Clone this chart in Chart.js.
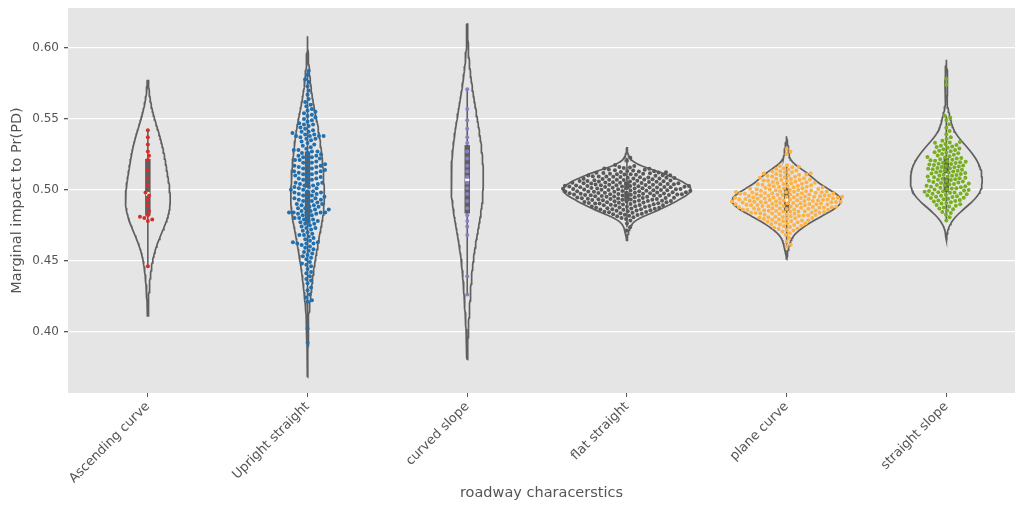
<!DOCTYPE html>
<html>
<head>
<meta charset="utf-8">
<script src="https://cdn.jsdelivr.net/npm/chart.js@4.4.1/dist/chart.umd.min.js"></script>
<style>
  html, body { margin: 0; padding: 0; background: #ffffff; }
  #wrap { width: 1019px; height: 509px; }
</style>
</head>
<body>
<div id="wrap"><canvas id="chart" width="1019" height="509"></canvas></div>
<script>
// Road-type categories along the x axis
const categories = ['Ascending curve', 'Upright straight', 'curved slope', 'flat straight', 'plane curve', 'straight slope'];

// Marginal impact to Pr(PD), one observation per value
const ascendingCurve = [0.446, 0.478, 0.479, 0.480, 0.481, 0.482, 0.485, 0.489, 0.493, 0.496, 0.498, 0.503, 0.508, 0.514, 0.521, 0.524, 0.527, 0.532, 0.537, 0.542];

const uprightStraight = [
  0.584, 0.581, 0.578, 0.576, 0.573, 0.570, 0.567, 0.564, 0.562, 0.560,
  0.559, 0.557, 0.556, 0.555, 0.554, 0.553, 0.552, 0.551, 0.550,
  0.549, 0.548, 0.547, 0.546, 0.546, 0.545, 0.544, 0.543, 0.542, 0.541, 0.541, 0.540,
  0.539, 0.539, 0.538, 0.538, 0.538, 0.538, 0.537, 0.536, 0.536, 0.535,
  0.534, 0.533, 0.532, 0.531, 0.530,
  0.529, 0.528, 0.528, 0.527, 0.527, 0.526, 0.526, 0.525,
  0.524, 0.524, 0.523, 0.523, 0.522, 0.522, 0.521, 0.521, 0.520,
  0.519, 0.519, 0.518, 0.518, 0.517, 0.517, 0.516, 0.516, 0.515, 0.515,
  0.514, 0.514, 0.513, 0.513, 0.512, 0.512, 0.511, 0.511, 0.510, 0.510,
  0.509, 0.508, 0.508, 0.507, 0.507, 0.506, 0.505, 0.505,
  0.504, 0.504, 0.503, 0.503, 0.502, 0.502, 0.501, 0.501, 0.500, 0.500,
  0.499, 0.499, 0.498, 0.498, 0.497, 0.497, 0.496, 0.496, 0.495, 0.495,
  0.494, 0.494, 0.493, 0.493, 0.492, 0.492, 0.491, 0.491, 0.490, 0.490,
  0.489, 0.489, 0.488, 0.488, 0.487, 0.487, 0.486, 0.486, 0.485, 0.485,
  0.484, 0.484, 0.484, 0.484, 0.484, 0.483, 0.483, 0.482, 0.482, 0.481, 0.480, 0.480,
  0.479, 0.479, 0.478, 0.478, 0.477, 0.476, 0.476, 0.475,
  0.474, 0.473, 0.473, 0.472, 0.471, 0.470,
  0.469, 0.468, 0.468, 0.467, 0.466, 0.465,
  0.464, 0.463, 0.463, 0.462, 0.462, 0.462, 0.461, 0.460,
  0.459, 0.458, 0.457, 0.456, 0.455,
  0.454, 0.453, 0.452, 0.451, 0.449, 0.448, 0.447, 0.446,
  0.444, 0.442, 0.441, 0.439, 0.437, 0.436, 0.434, 0.431, 0.429, 0.426,
  0.424, 0.422, 0.421, 0.402, 0.392
];

const curvedSlope = [0.426, 0.439, 0.468, 0.474, 0.478, 0.482, 0.487, 0.492, 0.497, 0.501, 0.505, 0.509, 0.513, 0.517, 0.522, 0.527, 0.533, 0.537, 0.543, 0.549, 0.557, 0.571];

const flatStraight = [
  0.5225, 0.5204,
  0.5174, 0.5168, 0.5161, 0.5157, 0.5153, 0.5150, 0.5148, 0.5143, 0.5141,
  0.5138, 0.5135, 0.5132, 0.5130, 0.5129, 0.5126, 0.5124, 0.5121, 0.5120,
  0.5118, 0.5116, 0.5113, 0.5112, 0.5110, 0.5109, 0.5107, 0.5105, 0.5103, 0.5102, 0.5100,
  0.5098, 0.5096, 0.5094, 0.5093, 0.5091, 0.5090, 0.5089, 0.5087, 0.5085, 0.5084, 0.5082, 0.5080,
  0.5079, 0.5077, 0.5076, 0.5074, 0.5073, 0.5071, 0.5070, 0.5069, 0.5067, 0.5066, 0.5064, 0.5062, 0.5061, 0.5060,
  0.5059, 0.5058, 0.5056, 0.5054, 0.5053, 0.5051, 0.5050,
  0.5049, 0.5048, 0.5046, 0.5045, 0.5044, 0.5042, 0.5041, 0.5040,
  0.5039, 0.5038, 0.5037, 0.5036, 0.5035, 0.5033, 0.5032, 0.5031, 0.5030,
  0.5029, 0.5027, 0.5027, 0.5026, 0.5025, 0.5023, 0.5022, 0.5021, 0.5020,
  0.5019, 0.5018, 0.5017, 0.5016, 0.5015, 0.5014, 0.5012, 0.5011, 0.5010,
  0.5009, 0.5008, 0.5007, 0.5006, 0.5005, 0.5004, 0.5003, 0.5001, 0.5000,
  0.4999, 0.4998, 0.4997, 0.4996, 0.4995, 0.4993, 0.4992, 0.4991, 0.4990,
  0.4989, 0.4988, 0.4987, 0.4986, 0.4985, 0.4983, 0.4982, 0.4981, 0.4980,
  0.4979, 0.4978, 0.4977, 0.4976, 0.4975, 0.4974, 0.4972, 0.4971, 0.4970,
  0.4969, 0.4968, 0.4967, 0.4966, 0.4964, 0.4963, 0.4962, 0.4961, 0.4960,
  0.4959, 0.4958, 0.4957, 0.4956, 0.4954, 0.4953, 0.4951, 0.4950,
  0.4949, 0.4947, 0.4945, 0.4944, 0.4942, 0.4941, 0.4940,
  0.4939, 0.4937, 0.4935, 0.4934, 0.4932, 0.4931, 0.4930,
  0.4929, 0.4927, 0.4926, 0.4924, 0.4922, 0.4921, 0.4920,
  0.4919, 0.4917, 0.4915, 0.4914, 0.4912, 0.4911, 0.4910,
  0.4908, 0.4906, 0.4905, 0.4903, 0.4902, 0.4900,
  0.4898, 0.4896, 0.4894, 0.4893, 0.4891, 0.4890,
  0.4888, 0.4886, 0.4884, 0.4882, 0.4880, 0.4878, 0.4875, 0.4873, 0.4872, 0.4870,
  0.4868, 0.4866, 0.4863, 0.4862, 0.4860, 0.4858, 0.4855, 0.4853, 0.4851,
  0.4848, 0.4845, 0.4843, 0.4841, 0.4838, 0.4834, 0.4831, 0.4827, 0.4824, 0.4821,
  0.4817, 0.4812, 0.4806, 0.4801, 0.4794, 0.4783, 0.4762, 0.4735, 0.4712
];

const planeCurve = [
  0.5288, 0.5268, 0.5251, 0.5172, 0.5167, 0.5162, 0.5158, 0.5151, 0.5147, 0.5142, 0.5136, 0.5131,
  0.5128, 0.5124, 0.5121, 0.5117, 0.5114, 0.5111, 0.5108, 0.5105, 0.5103, 0.5100,
  0.5097, 0.5094, 0.5091, 0.5088, 0.5084, 0.5081, 0.5078, 0.5076, 0.5073, 0.5071,
  0.5068, 0.5066, 0.5063, 0.5061, 0.5058, 0.5055, 0.5053, 0.5050,
  0.5048, 0.5045, 0.5043, 0.5041, 0.5038, 0.5036, 0.5033, 0.5031,
  0.5029, 0.5026, 0.5024, 0.5021, 0.5019, 0.5017, 0.5015, 0.5012, 0.5010,
  0.5009, 0.5007, 0.5005, 0.5003, 0.5001, 0.4999, 0.4998, 0.4996, 0.4994, 0.4992, 0.4990,
  0.4989, 0.4987, 0.4985, 0.4984, 0.4983, 0.4982, 0.4980, 0.4979, 0.4977, 0.4976, 0.4975, 0.4974, 0.4972, 0.4971,
  0.4969, 0.4967, 0.4966, 0.4965, 0.4964, 0.4962, 0.4960,
  0.4959, 0.4958, 0.4957, 0.4956, 0.4954, 0.4953, 0.4951, 0.4950,
  0.4949, 0.4947, 0.4946, 0.4945, 0.4944, 0.4943, 0.4941, 0.4940,
  0.4939, 0.4937, 0.4936, 0.4935, 0.4934, 0.4932, 0.4931, 0.4930,
  0.4929, 0.4927, 0.4926, 0.4925, 0.4924, 0.4923, 0.4921, 0.4920,
  0.4919, 0.4917, 0.4916, 0.4915, 0.4914, 0.4913, 0.4911, 0.4910,
  0.4909, 0.4907, 0.4906, 0.4905, 0.4904, 0.4902, 0.4901, 0.4900,
  0.4898, 0.4897, 0.4896, 0.4894, 0.4893, 0.4891, 0.4890,
  0.4888, 0.4887, 0.4886, 0.4885, 0.4883, 0.4881, 0.4880,
  0.4878, 0.4877, 0.4876, 0.4875, 0.4873, 0.4872, 0.4870,
  0.4868, 0.4867, 0.4866, 0.4864, 0.4863, 0.4861, 0.4860,
  0.4858, 0.4857, 0.4856, 0.4854, 0.4852, 0.4850, 0.4848, 0.4847, 0.4846, 0.4844, 0.4842, 0.4840,
  0.4838, 0.4837, 0.4836, 0.4834, 0.4832, 0.4830, 0.4828, 0.4826, 0.4824, 0.4822, 0.4820,
  0.4818, 0.4815, 0.4813, 0.4810, 0.4808, 0.4805, 0.4803, 0.4800,
  0.4798, 0.4795, 0.4793, 0.4790, 0.4788, 0.4785, 0.4783, 0.4780,
  0.4777, 0.4774, 0.4771, 0.4768, 0.4764, 0.4761, 0.4757, 0.4754, 0.4751,
  0.4746, 0.4742, 0.4737, 0.4732, 0.4727, 0.4722, 0.4716, 0.4712,
  0.4705, 0.4693, 0.4682, 0.4661, 0.4634, 0.4612, 0.4597
];

const straightSlope = [
  0.5781, 0.5742, 0.5522, 0.5509, 0.5493, 0.5462, 0.5438, 0.5414, 0.5392, 0.5371, 0.5358, 0.5346, 0.5337,
  0.5334, 0.5331, 0.5323, 0.5316, 0.5311, 0.5305, 0.5302, 0.5296, 0.5291, 0.5285, 0.5281, 0.5276, 0.5272, 0.5265, 0.5261,
  0.5257, 0.5252, 0.5247, 0.5242, 0.5236, 0.5231, 0.5228, 0.5224, 0.5221, 0.5216, 0.5211,
  0.5208, 0.5204, 0.5201, 0.5197, 0.5194, 0.5191, 0.5188, 0.5184, 0.5181, 0.5178, 0.5174, 0.5171,
  0.5168, 0.5164, 0.5161, 0.5158, 0.5154, 0.5151, 0.5148, 0.5144, 0.5141,
  0.5138, 0.5134, 0.5131, 0.5128, 0.5124, 0.5121, 0.5118, 0.5114, 0.5111,
  0.5108, 0.5104, 0.5101, 0.5098, 0.5094, 0.5091, 0.5088, 0.5084, 0.5081,
  0.5078, 0.5074, 0.5071, 0.5068, 0.5064, 0.5061, 0.5058, 0.5054, 0.5051,
  0.5048, 0.5044, 0.5041, 0.5038, 0.5034, 0.5031, 0.5028, 0.5024, 0.5021,
  0.5018, 0.5014, 0.5011, 0.5008, 0.5004, 0.5001, 0.4998, 0.4994, 0.4991,
  0.4989, 0.4986, 0.4983, 0.4981, 0.4978, 0.4974, 0.4971,
  0.4968, 0.4964, 0.4961, 0.4958, 0.4954, 0.4951, 0.4948, 0.4944, 0.4941,
  0.4937, 0.4932, 0.4928, 0.4924, 0.4921, 0.4917, 0.4912, 0.4907, 0.4902,
  0.4897, 0.4892, 0.4887, 0.4882, 0.4875, 0.4867, 0.4862, 0.4854, 0.4843, 0.4835, 0.4824, 0.4805, 0.4783
];

const seriesValues = [ascendingCurve, uprightStraight, curvedSlope, flatStraight, planeCurve, straightSlope];

// Kernel bandwidth of each violin's density estimate
const bandwidths = [0.0175, 0.0122, 0.023, 0.0035, 0.0045, 0.0068];

// Swarm point colour for each category
const pointColors = ['#d3302b', '#226fae', '#8a7fc6', '#595959', '#fdb247', '#7aae22'];

const yTicks = [0.40, 0.45, 0.50, 0.55, 0.60];

const FONT = 'DejaVu Sans';
const LINE_GRAY = '#5f5f5f';
const HALF_WIDTH = 0.4;      // half of the violin/swarm band, in category units
const SWARM_DIAMETER = 4.4;  // swarm marker spacing, px

// ---- statistics helpers ----
function quantile(sorted, q) {
  const pos = (sorted.length - 1) * q;
  const lo = Math.floor(pos), hi = Math.ceil(pos);
  return sorted[lo] + (sorted[hi] - sorted[lo]) * (pos - lo);
}

function kde(values, bw, grid) {
  const n = values.length, norm = 1 / (n * bw * Math.sqrt(2 * Math.PI));
  return grid.map(y => {
    let s = 0;
    for (const v of values) { const z = (y - v) / bw; s += Math.exp(-0.5 * z * z); }
    return s * norm;
  });
}

// Density curves, cut two bandwidths past the extreme values
const densities = seriesValues.map((vals, i) => {
  const bw = bandwidths[i];
  const lo = Math.min(...vals) - 2 * bw, hi = Math.max(...vals) + 2 * bw;
  const grid = [];
  for (let k = 0; k <= 120; k++) grid.push(lo + (hi - lo) * k / 120);
  return { grid, dens: kde(vals, bw, grid) };
});
const maxDensity = Math.max(...densities.map(d => Math.max(...d.dens)));

const datasets = [];
const swarmSets = [];

seriesValues.forEach((vals, i) => {
  const sorted = vals.slice().sort((a, b) => a - b);
  const { grid, dens } = densities[i];

  // violin outline: up the right side, down the left side
  const outline = [];
  grid.forEach((y, k) => outline.push({ x: i + dens[k] / maxDensity * HALF_WIDTH, y }));
  for (let k = grid.length - 1; k >= 0; k--) outline.push({ x: i - dens[k] / maxDensity * HALF_WIDTH, y: grid[k] });
  outline.push(outline[0]);

  datasets.push({
    data: outline, showLine: true, borderColor: LINE_GRAY, borderWidth: 1.7,
    pointRadius: 0, fill: false, tension: 0, order: 4
  });

  // inner box: whiskers, interquartile bar, median
  const q1 = quantile(sorted, 0.25), q3 = quantile(sorted, 0.75), med = quantile(sorted, 0.5);
  const iqr = q3 - q1;
  const wLo = Math.min(...sorted.filter(v => v >= q1 - 1.5 * iqr));
  const wHi = Math.max(...sorted.filter(v => v <= q3 + 1.5 * iqr));
  datasets.push({
    data: [{ x: i, y: wLo }, { x: i, y: wHi }], showLine: true, borderColor: LINE_GRAY,
    borderWidth: 1.6, pointRadius: 0, order: 3
  });
  datasets.push({
    data: [{ x: i, y: q1 }, { x: i, y: q3 }], showLine: true, borderColor: LINE_GRAY,
    borderWidth: 5.5, borderCapStyle: 'butt', pointRadius: 0, order: 2
  });
  datasets.push({
    data: [{ x: i, y: med }], pointRadius: 2.2, pointBackgroundColor: '#ffffff',
    pointBorderWidth: 0, order: 1
  });

  const swarm = {
    data: [], pointRadius: 2.0, pointBackgroundColor: pointColors[i],
    pointBorderWidth: 0, order: 0
  };
  swarmSets.push(swarm);
  datasets.push(swarm);
});

// Place each point as near the centre line as it can go without overlapping
function beeswarm(ys, d) {
  const placed = [];
  for (const y of ys) {
    const neighbors = placed.filter(p => Math.abs(p.y - y) < d);
    const cands = [0];
    for (const n of neighbors) {
      const dy = y - n.y;
      const dx = Math.sqrt(Math.max(d * d - dy * dy, 0)) * 1.05;
      cands.push(n.x + dx, n.x - dx);
    }
    cands.sort((a, b) => Math.abs(a) - Math.abs(b));
    let chosen = cands[cands.length - 1];
    for (const c of cands) {
      if (neighbors.every(n => (n.x - c) ** 2 + (n.y - y) ** 2 >= d * d * 0.999)) { chosen = c; break; }
    }
    placed.push({ x: chosen, y });
  }
  return placed.map(p => p.x);
}

const plotBackground = {
  id: 'plotBackground',
  beforeDraw(chart) {
    const { ctx, chartArea: a } = chart;
    ctx.save();
    ctx.fillStyle = '#e5e5e5';
    ctx.fillRect(a.left, a.top, a.right - a.left, a.bottom - a.top);
    ctx.restore();
  }
};

const chart = new Chart(document.getElementById('chart'), {
  type: 'scatter',
  data: { datasets },
  options: {
    responsive: false,
    animation: false,
    devicePixelRatio: 1,
    layout: { padding: { top: 8, right: 0, bottom: 0, left: 0 } },
    plugins: { legend: { display: false }, tooltip: { enabled: false } },
    scales: {
      x: {
        type: 'linear', min: -0.5, max: 5.43,
        afterBuildTicks: s => { s.ticks = categories.map((_, i) => ({ value: i })); },
        afterFit: s => { s.height = 116; s.paddingLeft = 0; s.paddingRight = 0; },
        border: { display: false },
        grid: { drawOnChartArea: false, drawTicks: true, tickLength: 4, tickColor: '#555555', lineWidth: 1 },
        ticks: {
          autoSkip: false, minRotation: 45, maxRotation: 45, padding: 2, color: '#555555',
          font: { family: FONT, size: 13 },
          callback: v => categories[Math.round(v)] ?? ''
        },
        title: {
          display: true, text: 'roadway characerstics', color: '#555555',
          font: { family: FONT, size: 14.5 }, padding: { top: 4, bottom: 7 }
        }
      },
      y: {
        type: 'linear', min: 0.3565, max: 0.6283,
        afterBuildTicks: s => { s.ticks = yTicks.map(v => ({ value: v })); },
        afterFit: s => { s.width = 68; s.paddingTop = 0; s.paddingBottom = 0; },
        border: { display: false },
        grid: { color: '#ffffff', lineWidth: 1.3, drawTicks: true, tickLength: 4, tickColor: '#555555' },
        ticks: {
          padding: 5, color: '#555555', font: { family: FONT, size: 12 },
          callback: v => Number(v).toFixed(2)
        },
        title: {
          display: true, text: 'Marginal impact to Pr(PD)', color: '#555555',
          font: { family: FONT, size: 14.5 }, padding: { top: 9, bottom: 0 }
        }
      }
    }
  },
  plugins: [plotBackground]
});

// Swarm layout needs the final pixel scales
(function layoutSwarms() {
  const xs = chart.scales.x, ys = chart.scales.y;
  const pxPerUnit = xs.getPixelForValue(1) - xs.getPixelForValue(0);
  const limit = HALF_WIDTH * pxPerUnit;
  seriesValues.forEach((vals, i) => {
    const sorted = vals.slice().sort((a, b) => a - b);
    const py = sorted.map(v => -ys.getPixelForValue(v));
    const offs = beeswarm(py, SWARM_DIAMETER);
    swarmSets[i].data = sorted.map((v, k) => ({
      x: i + Math.max(-limit, Math.min(limit, offs[k])) / pxPerUnit,
      y: v
    }));
  });
  chart.update('none');
})();
</script>
</body>
</html>
